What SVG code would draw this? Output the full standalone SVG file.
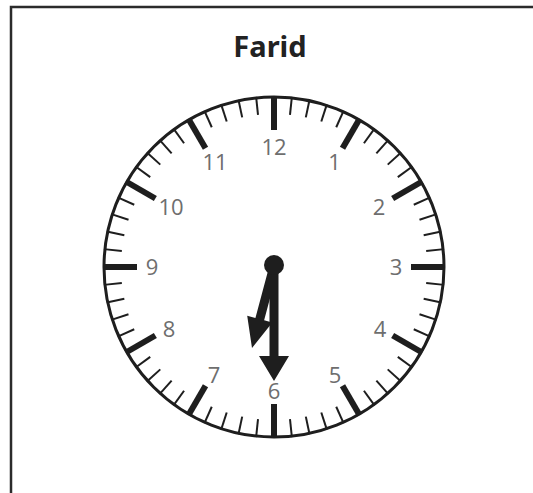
<svg xmlns="http://www.w3.org/2000/svg" xmlns:xlink="http://www.w3.org/1999/xlink" width="533" height="493" viewBox="0 0 533 493">
  <style>
    .frame { fill: none; stroke: #2b2b2b; stroke-width: 2.5; }
    .title { font-family: "Noto Sans", "Open Sans", sans-serif; font-weight: bold; font-size: 29px; fill: #222; text-anchor: middle; }
    .num { font-family: "Open Sans", "Noto Sans", sans-serif; font-size: 22px; fill: #6e6e6e; text-anchor: middle; }
    .face { fill: #fff; stroke: #1e1e1e; stroke-width: 3; }
    .hand { fill: #1e1e1e; }
  </style>
  <defs>
    <line id="m" x1="274" y1="96" x2="274" y2="114" stroke="#1e1e1e" stroke-width="2"/>
    <line id="h" x1="274" y1="96" x2="274" y2="130" stroke="#1e1e1e" stroke-width="6"/>
  </defs>
  <path class="frame" d="M11,493 V7 H533"/>
  <g id="title"><text class="title" x="270" y="57">Farid</text></g>
  <g id="clock">
    <circle class="face" cx="274" cy="267" r="170"/>
    <g id="hour-ticks">
      <use xlink:href="#h"/>
      <use xlink:href="#h" transform="rotate(30 274 267)"/>
      <use xlink:href="#h" transform="rotate(60 274 267)"/>
      <use xlink:href="#h" transform="rotate(90 274 267)"/>
      <use xlink:href="#h" transform="rotate(120 274 267)"/>
      <use xlink:href="#h" transform="rotate(150 274 267)"/>
      <use xlink:href="#h" transform="rotate(180 274 267)"/>
      <use xlink:href="#h" transform="rotate(210 274 267)"/>
      <use xlink:href="#h" transform="rotate(240 274 267)"/>
      <use xlink:href="#h" transform="rotate(270 274 267)"/>
      <use xlink:href="#h" transform="rotate(300 274 267)"/>
      <use xlink:href="#h" transform="rotate(330 274 267)"/>
    </g>
    <g id="minute-ticks">
      <use xlink:href="#m" transform="rotate(6 274 267)"/>
      <use xlink:href="#m" transform="rotate(12 274 267)"/>
      <use xlink:href="#m" transform="rotate(18 274 267)"/>
      <use xlink:href="#m" transform="rotate(24 274 267)"/>
      <use xlink:href="#m" transform="rotate(36 274 267)"/>
      <use xlink:href="#m" transform="rotate(42 274 267)"/>
      <use xlink:href="#m" transform="rotate(48 274 267)"/>
      <use xlink:href="#m" transform="rotate(54 274 267)"/>
      <use xlink:href="#m" transform="rotate(66 274 267)"/>
      <use xlink:href="#m" transform="rotate(72 274 267)"/>
      <use xlink:href="#m" transform="rotate(78 274 267)"/>
      <use xlink:href="#m" transform="rotate(84 274 267)"/>
      <use xlink:href="#m" transform="rotate(96 274 267)"/>
      <use xlink:href="#m" transform="rotate(102 274 267)"/>
      <use xlink:href="#m" transform="rotate(108 274 267)"/>
      <use xlink:href="#m" transform="rotate(114 274 267)"/>
      <use xlink:href="#m" transform="rotate(126 274 267)"/>
      <use xlink:href="#m" transform="rotate(132 274 267)"/>
      <use xlink:href="#m" transform="rotate(138 274 267)"/>
      <use xlink:href="#m" transform="rotate(144 274 267)"/>
      <use xlink:href="#m" transform="rotate(156 274 267)"/>
      <use xlink:href="#m" transform="rotate(162 274 267)"/>
      <use xlink:href="#m" transform="rotate(168 274 267)"/>
      <use xlink:href="#m" transform="rotate(174 274 267)"/>
      <use xlink:href="#m" transform="rotate(186 274 267)"/>
      <use xlink:href="#m" transform="rotate(192 274 267)"/>
      <use xlink:href="#m" transform="rotate(198 274 267)"/>
      <use xlink:href="#m" transform="rotate(204 274 267)"/>
      <use xlink:href="#m" transform="rotate(216 274 267)"/>
      <use xlink:href="#m" transform="rotate(222 274 267)"/>
      <use xlink:href="#m" transform="rotate(228 274 267)"/>
      <use xlink:href="#m" transform="rotate(234 274 267)"/>
      <use xlink:href="#m" transform="rotate(246 274 267)"/>
      <use xlink:href="#m" transform="rotate(252 274 267)"/>
      <use xlink:href="#m" transform="rotate(258 274 267)"/>
      <use xlink:href="#m" transform="rotate(264 274 267)"/>
      <use xlink:href="#m" transform="rotate(276 274 267)"/>
      <use xlink:href="#m" transform="rotate(282 274 267)"/>
      <use xlink:href="#m" transform="rotate(288 274 267)"/>
      <use xlink:href="#m" transform="rotate(294 274 267)"/>
      <use xlink:href="#m" transform="rotate(306 274 267)"/>
      <use xlink:href="#m" transform="rotate(312 274 267)"/>
      <use xlink:href="#m" transform="rotate(318 274 267)"/>
      <use xlink:href="#m" transform="rotate(324 274 267)"/>
      <use xlink:href="#m" transform="rotate(336 274 267)"/>
      <use xlink:href="#m" transform="rotate(342 274 267)"/>
      <use xlink:href="#m" transform="rotate(348 274 267)"/>
      <use xlink:href="#m" transform="rotate(354 274 267)"/>
    </g>
    <g id="numbers">
      <text class="num" x="334.5" y="170">1</text>
      <text class="num" x="379" y="215">2</text>
      <text class="num" x="396" y="275">3</text>
      <text class="num" x="380" y="337">4</text>
      <text class="num" x="335" y="383">5</text>
      <text class="num" x="274" y="399">6</text>
      <text class="num" x="214" y="383">7</text>
      <text class="num" x="169" y="337">8</text>
      <text class="num" x="152" y="275">9</text>
      <text class="num" x="171" y="215">10</text>
      <text class="num" x="215" y="170">11</text>
      <text class="num" x="274" y="155">12</text>
    </g>
  </g>
  <g id="hands">
    <polygon id="hour-hand" class="hand" points="269.5,266 278.5,266 278.5,321 287,321 274,351 261,321 269.5,321" transform="rotate(15 274 266)"/>
    <polygon id="minute-hand" class="hand" points="269.5,266 278.5,266 278.5,356 289,356 274,381 259,356 269.5,356"/>
    <circle id="pivot" class="hand" cx="274" cy="265" r="10"/>
  </g>
</svg>
